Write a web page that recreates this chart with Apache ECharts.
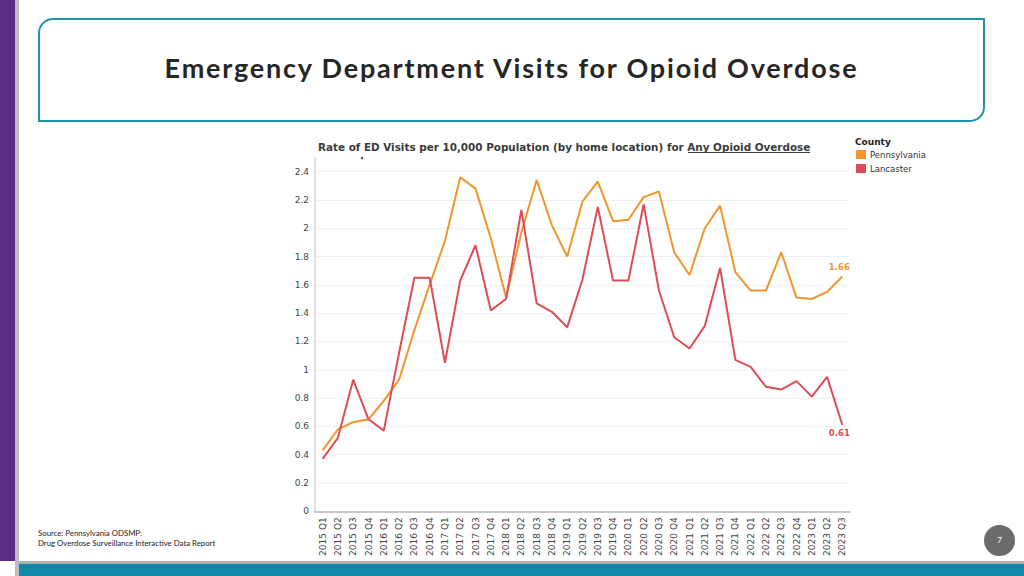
<!DOCTYPE html>
<html>
<head>
<meta charset="utf-8">
<script src="https://cdn.jsdelivr.net/npm/echarts@6/dist/echarts.min.js"></script>
<style>
  html, body { margin: 0; padding: 0; width: 1024px; height: 576px; overflow: hidden; background: #fff; }
  .abs { position: absolute; }
  #purple { left: 0; top: 0; width: 15px; height: 561px; background: #5B2C86; }
  #vgray { left: 15px; top: 0; width: 4px; height: 576px; background: #BDBDBD; }
  #hgray { left: 19px; top: 561px; width: 1005px; height: 3px; background: #B0B0B0; }
  #teal { left: 19px; top: 564px; width: 1005px; height: 12px; background: #0F89A6; }
  #titlebox { left: 38px; top: 18px; width: 943px; height: 100px; border: 2px solid #1A93AB;
              border-radius: 15px 0 15px 0; background: #fff; }
  #title { left: 38px; top: 17px; width: 947px; height: 104px; line-height: 102px; text-align: center;
           font-family: Lato, sans-serif; font-weight: bold; font-size: 27px; letter-spacing: 1.8px; color: #262626; }
  #source { left: 38px; top: 528px; font-family: Lato, sans-serif; font-size: 7.8px; line-height: 10px; color: #222; }
  #page { left: 984px; top: 525px; width: 31px; height: 31px; border-radius: 50%; background: #6B6B6B;
          color: #fff; font-family: Lato, sans-serif; font-size: 8px; line-height: 31px; text-align: center; }
  #chart { left: 0; top: 0; width: 1024px; height: 576px; }
</style>
</head>
<body>
<div class="abs" id="purple"></div>
<div class="abs" id="vgray"></div>
<div class="abs" id="hgray"></div>
<div class="abs" id="teal"></div>
<div class="abs" id="titlebox"></div>
<div class="abs" id="title">Emergency Department Visits for Opioid Overdose</div>
<div class="abs" id="source">Source: Pennsylvania ODSMP:<br>Drug Overdose Surveillance Interactive Data Report</div>
<div class="abs" id="page">7</div>
<div class="abs" id="chart"></div>
<script>
const categories = [
  '2015 Q1','2015 Q2','2015 Q3','2015 Q4',
  '2016 Q1','2016 Q2','2016 Q3','2016 Q4',
  '2017 Q1','2017 Q2','2017 Q3','2017 Q4',
  '2018 Q1','2018 Q2','2018 Q3','2018 Q4',
  '2019 Q1','2019 Q2','2019 Q3','2019 Q4',
  '2020 Q1','2020 Q2','2020 Q3','2020 Q4',
  '2021 Q1','2021 Q2','2021 Q3','2021 Q4',
  '2022 Q1','2022 Q2','2022 Q3','2022 Q4',
  '2023 Q1','2023 Q2','2023 Q3'
];
const pennsylvania = [0.43,0.58,0.63,0.65,0.78,0.93,1.28,1.60,1.91,2.36,2.28,1.93,1.51,1.97,2.34,2.02,1.80,2.19,2.33,2.05,2.06,2.22,2.26,1.83,1.67,2.00,2.16,1.69,1.56,1.56,1.83,1.51,1.50,1.55,1.66];
const lancaster    = [0.37,0.52,0.93,0.65,0.57,1.12,1.65,1.65,1.05,1.63,1.88,1.42,1.50,2.13,1.47,1.41,1.30,1.64,2.15,1.63,1.63,2.17,1.56,1.23,1.15,1.31,1.72,1.07,1.02,0.88,0.86,0.92,0.81,0.95,0.61];
const seriesNames = ['Pennsylvania', 'Lancaster'];
const chartTitle = 'Rate of ED Visits per 10,000 Population (by home location) for ';
const chartTitleLink = 'Any Opioid Overdose';
const legendTitle = 'County';

const ORANGE = '#F0962C';
const RED = '#DD4D57';
const FONT = 'DejaVu Sans';
const last = categories.length - 1;

const chart = echarts.init(document.getElementById('chart'), null, { renderer: 'svg' });
chart.setOption({
  backgroundColor: 'transparent',
  animation: false,
  title: {
    text: '{a|' + chartTitle + '}{b|' + chartTitleLink + '}',
    left: 313, top: 137,
    textStyle: {
      rich: {
        a: { fontFamily: FONT, fontWeight: 'bold', fontSize: 10.4, color: '#3A3A3A' },
        b: { fontFamily: FONT, fontWeight: 'bold', fontSize: 10.4, color: '#3A3A3A' }
      }
    }
  },
  legend: {
    orient: 'vertical', left: 856, top: 150, padding: 0,
    icon: 'rect', itemWidth: 10, itemHeight: 9, itemGap: 5,
    textStyle: { fontFamily: FONT, fontSize: 8.5, color: '#333', padding: [0,0,0,-1] },
    data: seriesNames
  },
  graphic: [
    { type: 'text', left: 855, top: 137, style: { text: legendTitle, font: 'bold 9px DejaVu Sans', fill: '#222' } },
    { type: 'line', shape: { x1: 688, y1: 152.5, x2: 810, y2: 152.5 }, style: { stroke: '#3A3A3A', lineWidth: 1 } },
    { type: 'circle', shape: { cx: 362, cy: 158, r: 1 }, style: { fill: '#222' } }
  ],
  grid: { left: 315, right: 174, top: 157.5, bottom: 64.7, containLabel: false },
  xAxis: {
    type: 'category', data: categories, boundaryGap: true,
    axisLine: { show: true, lineStyle: { color: '#C8C8C8', width: 2 } },
    axisTick: { show: false },
    axisLabel: { rotate: 90, interval: 0, margin: 6, fontFamily: FONT, fontSize: 9, color: '#444' },
    splitLine: { show: false }
  },
  yAxis: {
    type: 'value', min: 0, max: 2.5, interval: 0.2,
    axisLine: { show: true, lineStyle: { color: '#D8D8D8', width: 1.5 } },
    axisTick: { show: false },
    axisLabel: { showMaxLabel: false, margin: 6, fontFamily: FONT, fontSize: 9, color: '#444' },
    splitLine: { show: true, showMaxLine: false, lineStyle: { color: '#EFEFEF', width: 1 } }
  },
  series: [
    {
      name: seriesNames[0], type: 'line', data: pennsylvania,
      symbol: 'circle', symbolSize: 0, showSymbol: true,
      itemStyle: { color: ORANGE }, lineStyle: { color: ORANGE, width: 2 },
      label: {
        show: true, position: 'top', distance: 5, offset: [-3, 0],
        fontFamily: FONT, fontSize: 8.5, fontWeight: 'bold', color: ORANGE,
        formatter: p => p.dataIndex === last ? Number(p.value).toFixed(2) : ''
      }
    },
    {
      name: seriesNames[1], type: 'line', data: lancaster,
      symbol: 'circle', symbolSize: 0, showSymbol: true,
      itemStyle: { color: RED }, lineStyle: { color: RED, width: 2 },
      label: {
        show: true, position: 'bottom', distance: 4, offset: [-3, 0],
        fontFamily: FONT, fontSize: 8.5, fontWeight: 'bold', color: RED,
        formatter: p => p.dataIndex === last ? Number(p.value).toFixed(2) : ''
      }
    }
  ]
});
</script>
</body>
</html>
